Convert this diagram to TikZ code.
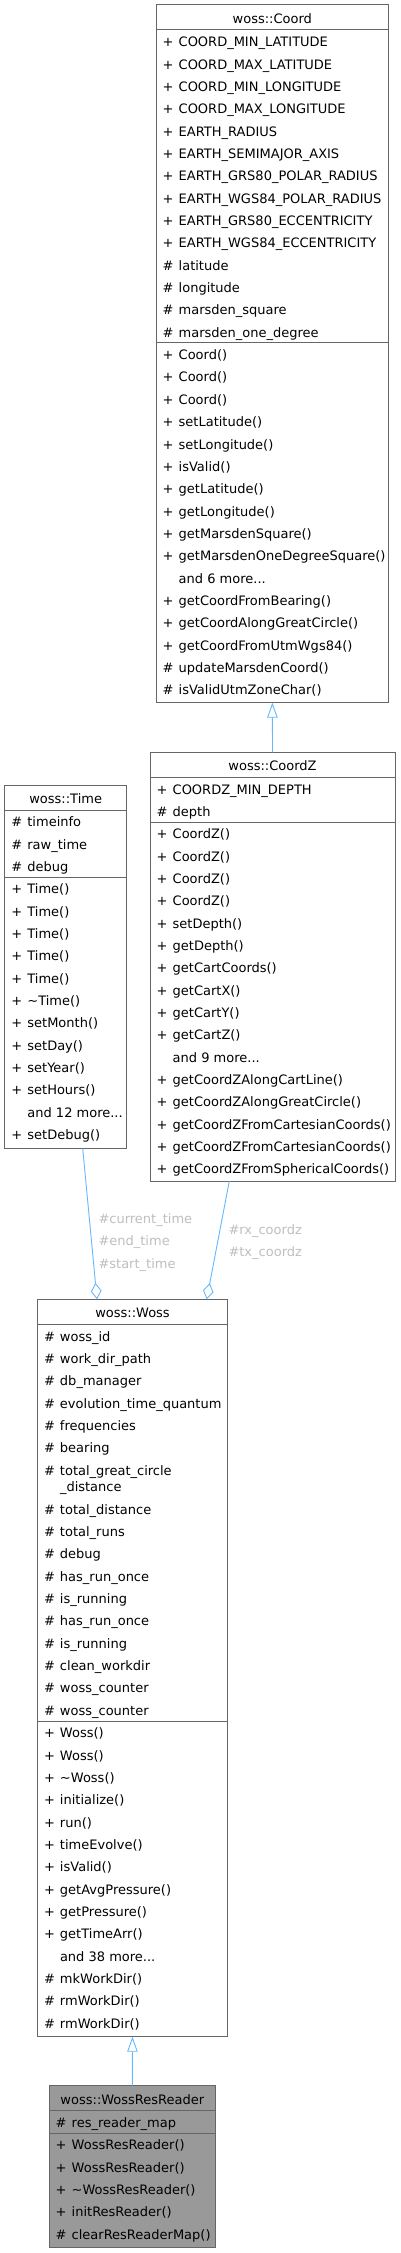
\documentclass[tikz,border=0pt]{standalone}
\usepackage{fontspec}
\setmainfont{DejaVu Sans}
\usetikzlibrary{arrows.meta,calc}
\definecolor{boxline}{HTML}{666666}
\definecolor{edgeblue}{HTML}{63B8FF}
\definecolor{lblgray}{HTML}{BEBEBE}
\definecolor{curfill}{HTML}{999999}
\newcommand\fs{\fontsize{13}{15}\selectfont}
\newcommand\mdots{...}
\newcommand\rowpitch{22.35}
% #1 box, #2 first baseline offset from box top, #3 name prefix, #4 list
\newcommand\members[4]{%
  \foreach [count=\k from 0] \s/\t in {#4}
    \node[row] (#3\k) at ($(#1.north west)+(6.5,#2+\k*\rowpitch)$) {\makebox[16pt][l]{\s}\t};}
% #1 box, #2 offset from box top
\newcommand\sepat[2]{%
  \draw[sepline] ($(#1.north west)+(0,#2)$) -- ($(#1.north east)+(0,#2)$);}
\tikzset{
  classbox/.style={draw=boxline, line width=1pt, fill=white, inner sep=0pt, outer sep=0pt, anchor=north west},
  row/.style={anchor=base west, inner sep=0pt, font=\fs},
  titletext/.style={anchor=base, inner sep=0pt, font=\fs},
  sepline/.style={draw=boxline, line width=1pt},
  inherit/.style={draw=edgeblue, line width=0.9pt, -{Triangle[open,length=15pt,width=10.5pt]}},
  aggreg/.style={draw=edgeblue, line width=0.9pt, {Diamond[open,length=16.5pt,width=10.7pt]}-},
  edgelbl/.style={anchor=base west, inner sep=0pt, font=\fs, text=lblgray},
}
\begin{document}
\begin{tikzpicture}[x=1pt,y=-1pt]
\useasboundingbox (0,0) rectangle (400,2253);

% ---------- woss::Coord ----------
\node[classbox, minimum width=232.7pt, minimum height=697.7pt] (coord) at (156,5) {};
\node[titletext] (coordT) at ($(coord.north)+(0,18.3)$) {woss::Coord};
\sepat{coord}{25}
\sepat{coord}{337.9}
\members{coord}{41.7}{coordA}{+/COORD\_MIN\_LATITUDE, +/COORD\_MAX\_LATITUDE, +/COORD\_MIN\_LONGITUDE, +/COORD\_MAX\_LONGITUDE, +/EARTH\_RADIUS, +/EARTH\_SEMIMAJOR\_AXIS, +/EARTH\_GRS80\_POLAR\_RADIUS, +/EARTH\_WGS84\_POLAR\_RADIUS, +/EARTH\_GRS80\_ECCENTRICITY, +/EARTH\_WGS84\_ECCENTRICITY, \#/latitude, \#/longitude, \#/marsden\_square, \#/marsden\_one\_degree}
\members{coord}{354.6}{coordM}{+/Coord(), +/Coord(), +/Coord(), +/setLatitude(), +/setLongitude(), +/isValid(), +/getLatitude(), +/getLongitude(), +/getMarsdenSquare(), +/getMarsdenOneDegreeSquare(), /and 6 more\mdots, +/getCoordFromBearing(), +/getCoordAlongGreatCircle(), +/getCoordFromUtmWgs84(), \#/updateMarsdenCoord(), \#/isValidUtmZoneChar()}

% ---------- woss::CoordZ ----------
\node[classbox, minimum width=245pt, minimum height=428.7pt] (coordz) at (150,752.3) {};
\node[titletext] (coordzT) at ($(coordz.north)+(0,18.3)$) {woss::CoordZ};
\sepat{coordz}{25}
\sepat{coordz}{69.7}
\members{coordz}{41.7}{coordzA}{+/COORDZ\_MIN\_DEPTH, \#/depth}
\members{coordz}{86.4}{coordzM}{+/CoordZ(), +/CoordZ(), +/CoordZ(), +/CoordZ(), +/setDepth(), +/getDepth(), +/getCartCoords(), +/getCartX(), +/getCartY(), +/getCartZ(), /and 9 more\mdots, +/getCoordZAlongCartLine(), +/getCoordZAlongGreatCircle(), +/getCoordZFromCartesianCoords(), +/getCoordZFromCartesianCoords(), +/getCoordZFromSphericalCoords()}

% ---------- woss::Time ----------
\node[classbox, minimum width=122pt, minimum height=363.3pt] (time) at (4.7,785) {};
\node[titletext] (timeT) at ($(time.north)+(0,18.3)$) {woss::Time};
\sepat{time}{25}
\sepat{time}{92.05}
\members{time}{41.7}{timeA}{\#/timeinfo, \#/raw\_time, \#/debug}
\members{time}{108.75}{timeM}{+/Time(), +/Time(), +/Time(), +/Time(), +/Time(), +/\textasciitilde Time(), +/setMonth(), +/setDay(), +/setYear(), +/setHours(), /and 12 more\mdots, +/setDebug()}

% ---------- woss::Woss ----------
\node[classbox, minimum width=190.4pt, minimum height=737.4pt] (woss) at (37.3,1299.3) {};
\node[titletext] (wossT) at ($(woss.north)+(0,18.3)$) {woss::Woss};
\sepat{woss}{25}
\sepat{woss}{421.7}
\members{woss}{41.7}{wossA}{\#/woss\_id, \#/work\_dir\_path, \#/db\_manager, \#/evolution\_time\_quantum, \#/frequencies, \#/bearing, \#/total\_great\_circle}
\node[row] (wossAwrap) at ($(woss.north west)+(22.5,192.5)$) {\_distance};
\members{woss}{214.85}{wossB}{\#/total\_distance, \#/total\_runs, \#/debug, \#/has\_run\_once, \#/is\_running, \#/has\_run\_once, \#/is\_running, \#/clean\_workdir, \#/woss\_counter, \#/woss\_counter}
\members{woss}{438.4}{wossM}{+/Woss(), +/Woss(), +/\textasciitilde Woss(), +/initialize(), +/run(), +/timeEvolve(), +/isValid(), +/getAvgPressure(), +/getPressure(), +/getTimeArr(), /and 38 more\mdots, \#/mkWorkDir(), \#/rmWorkDir(), \#/rmWorkDir()}

% ---------- woss::WossResReader ----------
\node[classbox, fill=curfill, minimum width=166.7pt, minimum height=162pt] (wrr) at (49,2085.7) {};
\node[titletext] (wrrT) at ($(wrr.north)+(0,18.3)$) {woss::WossResReader};
\sepat{wrr}{25}
\sepat{wrr}{47.35}
\members{wrr}{41.7}{wrrA}{\#/res\_reader\_map}
\members{wrr}{64.05}{wrrM}{+/WossResReader(), +/WossResReader(), +/\textasciitilde WossResReader(), +/initResReader(), \#/clearResReaderMap()}

% ---------- connectors ----------
\draw[inherit] (coordz.north) -- (coord.south);
\draw[inherit] (wrr.north) -- (woss.south);
\draw[aggreg] ([xshift=-35.5pt]woss.north) -- ([xshift=17pt]time.south);
\draw[aggreg] ([xshift=74.2pt]woss.north) -- ([xshift=-43.2pt]coordz.south);

% ---------- edge labels ----------
\node[edgelbl] (lblCur) at (98.3,1223.3) {\#current\_time};
\node[edgelbl] (lblEnd) at (98.3,1245.6) {\#end\_time};
\node[edgelbl] (lblStart) at (98.3,1268) {\#start\_time};
\node[edgelbl] (lblRx) at (228.3,1234.3) {\#rx\_coordz};
\node[edgelbl] (lblTx) at (228.3,1256.6) {\#tx\_coordz};
\end{tikzpicture}
\end{document}
